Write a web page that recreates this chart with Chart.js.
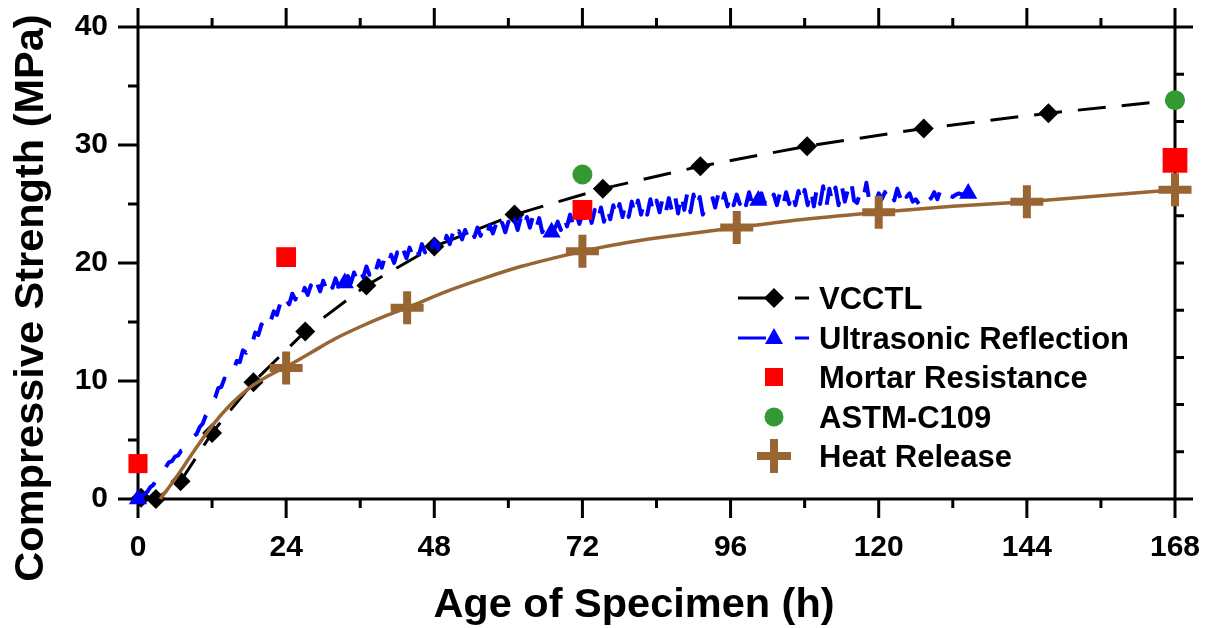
<!DOCTYPE html>
<html>
<head>
<meta charset="utf-8">
<title>Compressive strength vs age</title>
<script src="https://cdn.jsdelivr.net/npm/chart.js@4.4.1/dist/chart.umd.min.js"></script>
<style>
    html, body { margin: 0; padding: 0; background: #fff; }
    #wrap { width: 1209px; height: 628px; }
</style>
</head>
<body>
<div id="wrap"><canvas id="strengthChart" width="1209" height="628"></canvas></div>
<script>
// ---- data ----
const vcctlHours  = [0.5, 2.9, 6.9, 12.0, 18.7, 27.1, 37.0, 48.0, 61.0, 75.3, 91.1, 108.4, 127.3, 147.5, 168];
const vcctlValues = [0.1, 0.0, 1.5, 5.6, 9.9, 14.2, 18.1, 21.4, 24.1, 26.3, 28.2, 29.9, 31.4, 32.7, 33.8];

// ultrasonic record, sampled every 0.5 h from 0 h to 135 h
const ultraStart = 0;
const ultraStep = 0.5;
const ultraValues = [
    0.0, 0.2, 0.4, 0.6, 1.0, 1.2, 1.7, 1.9, 2.6, 2.7, 3.1, 3.2, 3.6, 3.7, 4.1, 4.2, 4.6, 4.8, 5.3, 5.5,
    6.1, 6.4, 7.1, 7.5, 8.3, 8.6, 9.4, 9.5, 10.2, 10.1, 10.9, 10.9, 11.7, 11.6, 12.6, 12.4, 13.4, 13.2, 14.1, 13.9,
    14.8, 14.5, 15.4, 15.1, 15.9, 15.6, 16.5, 16.0, 16.9, 16.5, 17.4, 16.9, 17.7, 17.1, 17.9, 17.3, 18.1, 17.4, 18.3, 17.6,
    18.5, 17.8, 18.6, 17.9, 18.7, 18.0, 18.8, 18.3, 18.9, 18.3, 19.2, 18.5, 19.4, 18.8, 19.7, 19.0, 19.9, 19.3, 20.2, 19.6,
    20.5, 19.8, 20.7, 20.0, 20.9, 20.2, 21.1, 20.4, 21.3, 20.6, 21.4, 20.7, 21.6, 20.9, 21.8, 21.1, 21.9, 21.2, 22.1, 21.4,
    22.3, 21.6, 22.5, 21.8, 22.7, 22.0, 22.8, 22.1, 22.9, 22.2, 23.0, 22.3, 23.1, 22.4, 23.2, 22.5, 23.3, 22.5, 23.4, 22.6,
    23.5, 22.7, 23.7, 22.8, 23.8, 22.9, 23.9, 23.0, 24.0, 22.9, 23.8, 22.6, 23.3, 22.4, 22.6, 22.9, 23.5, 22.8, 24.0, 23.1,
    24.1, 23.2, 24.2, 23.3, 24.2, 23.3, 24.4, 23.4, 24.5, 23.5, 24.7, 23.5, 24.8, 23.7, 24.9, 23.8, 25.0, 23.9, 25.1, 23.9,
    25.2, 24.0, 25.3, 24.1, 25.2, 24.1, 25.4, 24.2, 25.3, 24.3, 25.5, 24.3, 25.5, 24.4, 25.7, 24.2, 25.9, 24.5, 26.0, 24.3,
    25.8, 24.6, 25.6, 24.1, 24.8, 24.9, 25.7, 24.7, 25.8, 24.8, 25.9, 24.8, 25.9, 24.9, 25.8, 25.0, 25.9, 24.9, 26.0, 25.0,
    26.0, 25.3, 25.9, 25.1, 25.8, 25.2, 25.8, 24.9, 25.9, 24.8, 26.0, 25.0, 26.1, 24.9, 26.1, 25.0, 26.2, 24.9, 26.3, 24.8,
    26.4, 25.0, 26.5, 24.7, 26.3, 25.1, 26.4, 24.9, 26.6, 25.2, 26.2, 27.1, 25.3, 25.1, 26.0, 25.4, 26.8, 25.2, 25.5, 25.0,
    25.9, 25.4, 26.0, 25.5, 26.1, 25.3, 26.3, 25.5, 26.4, 25.6, 25.9, 25.2, 25.4, 25.0, 25.6, 25.1, 25.3, 25.5, 26.0, 25.4,
    26.2, 26.0, 26.3, 25.7, 25.6, 25.8, 25.9, 25.8, 25.9, 25.9, 26.0
];
const ultraMarkerHours = [0, 33.5, 67, 100.5, 134.5];

const mortarHours  = [0, 24, 72, 168];
const mortarValues = [3.0, 20.5, 24.5, 28.7];

const astmHours  = [72, 168];
const astmValues = [27.5, 33.8];

const heatHours  = [24, 43.6, 72, 97, 120, 144, 168];
const heatValues = [11.1, 16.2, 21.0, 23.0, 24.3, 25.2, 26.2];
// fitted heat-release curve
const heatCurveHours  = [3.6, 6, 9, 12, 15, 18, 21, 24, 28, 32, 36, 40, 44, 50, 56, 62, 68, 72, 80, 88, 97, 108, 120, 132, 144, 156, 168];
const heatCurveValues = [0, 1.7, 4.0, 6.2, 8.0, 9.4, 10.4, 11.2, 12.4, 13.6, 14.6, 15.5, 16.3, 17.6, 18.7, 19.7, 20.5, 21.0, 21.8, 22.4, 23.0, 23.7, 24.3, 24.8, 25.2, 25.7, 26.2];

const xTicks = [0, 24, 48, 72, 96, 120, 144, 168];
const yTicks = [0, 10, 20, 30, 40];

const BROWN = '#996633';
const GREEN = '#339933';
const FONT = '"Liberation Sans", Arial, sans-serif';

function pairs(xs, ys) {
    return xs.map((x, i) => ({ x: x, y: ys[i] }));
}
const ultraPoints = ultraValues.map((v, i) => ({ x: ultraStart + i * ultraStep, y: v }));

// fixed axis boxes, no extra padding for overhanging labels
function fixBox(size, horizontal) {
    return s => {
        if (horizontal) s.height = size; else s.width = size;
        s.paddingTop = 0; s.paddingBottom = 0;
        s.paddingLeft = 0; s.paddingRight = 0;
    };
}

// ---- frame, ticks, titles, legend ----
const framePlugin = {
    id: 'frame',
    beforeDatasetsDraw(chart) {
        const { ctx, chartArea: a, scales: { x, y } } = chart;
        ctx.save();
        ctx.strokeStyle = '#000';
        ctx.lineWidth = 3;
        ctx.beginPath();
        ctx.rect(a.left, a.top, a.right - a.left, a.bottom - a.top);
        for (let h = 0; h <= 168; h += 12) {
            const px = x.getPixelForValue(h);
            const len = h % 24 === 0 ? 19 : 9;
            ctx.moveTo(px, a.bottom); ctx.lineTo(px, a.bottom + len);
            ctx.moveTo(px, a.top); ctx.lineTo(px, a.top - len);
        }
        for (let v = 0; v <= 40; v += 5) {
            const py = y.getPixelForValue(v);
            const len = v % 10 === 0 ? 20 : 10;
            ctx.moveTo(a.left, py); ctx.lineTo(a.left - len, py);
        }
        for (let v = 0; v <= 40; v += 4) {
            const py = y.getPixelForValue(v);
            const len = (v === 0 || v === 40) ? 18 : 9;
            ctx.moveTo(a.right, py); ctx.lineTo(a.right + len, py);
        }
        ctx.stroke();
        ctx.restore();
    },
    afterDraw(chart) {
        const { ctx } = chart;
        ctx.save();
        ctx.fillStyle = '#000';
        ctx.font = 'bold 41.5px ' + FONT;
        ctx.textAlign = 'center';
        ctx.textBaseline = 'alphabetic';
        ctx.fillText('Age of Specimen (h)', 634, 617);
        ctx.translate(43, 298);
        ctx.rotate(-Math.PI / 2);
        ctx.fillText('Compressive Strength (MPa)', 0, 0);
        ctx.restore();

        drawLegend(ctx);
    }
};

function drawLegend(ctx) {
    const rows = [
        { label: 'VCCTL', y: 298, kind: 'diamond' },
        { label: 'Ultrasonic Reflection', y: 338, kind: 'triangle' },
        { label: 'Mortar Resistance', y: 377, kind: 'square' },
        { label: 'ASTM-C109', y: 417, kind: 'circle' },
        { label: 'Heat Release', y: 456, kind: 'cross' }
    ];
    const mx = 774;
    ctx.save();
    rows.forEach(r => {
        const cy = r.y;
        if (r.kind === 'diamond' || r.kind === 'triangle') {
            ctx.strokeStyle = r.kind === 'diamond' ? '#000' : '#0000ff';
            ctx.fillStyle = ctx.strokeStyle;
            ctx.lineWidth = 3;
            ctx.beginPath();
            ctx.moveTo(738, cy); ctx.lineTo(766, cy);
            ctx.moveTo(795, cy); ctx.lineTo(809, cy);
            ctx.stroke();
            ctx.beginPath();
            if (r.kind === 'diamond') {
                ctx.moveTo(mx, cy - 10); ctx.lineTo(mx + 10, cy);
                ctx.lineTo(mx, cy + 10); ctx.lineTo(mx - 10, cy);
            } else {
                ctx.moveTo(mx, cy - 10); ctx.lineTo(mx + 9, cy + 6);
                ctx.lineTo(mx - 9, cy + 6);
            }
            ctx.closePath();
            ctx.fill();
        } else if (r.kind === 'square') {
            ctx.fillStyle = '#ff0000';
            ctx.fillRect(mx - 9, cy - 9, 18, 18);
        } else if (r.kind === 'circle') {
            ctx.fillStyle = GREEN;
            ctx.beginPath();
            ctx.arc(mx, cy, 9.5, 0, Math.PI * 2);
            ctx.fill();
        } else {
            ctx.strokeStyle = BROWN;
            ctx.lineWidth = 8;
            ctx.beginPath();
            ctx.moveTo(mx - 17, cy); ctx.lineTo(mx + 17, cy);
            ctx.moveTo(mx, cy - 17); ctx.lineTo(mx, cy + 17);
            ctx.stroke();
        }
        ctx.fillStyle = '#000';
        ctx.font = 'bold 31px ' + FONT;
        ctx.textAlign = 'left';
        ctx.textBaseline = 'alphabetic';
        ctx.fillText(r.label, 819, cy + 11);
    });
    ctx.restore();
}

const ctx = document.getElementById('strengthChart').getContext('2d');
const strengthChart = new Chart(ctx, {
    type: 'scatter',
    data: {
        datasets: [
            {
                label: 'VCCTL',
                data: pairs(vcctlHours, vcctlValues),
                showLine: true,
                borderColor: '#000',
                borderWidth: 3,
                borderDash: [28, 16],
                pointStyle: 'rectRot',
                pointRadius: 10,
                pointBackgroundColor: '#000',
                pointBorderWidth: 0,
                clip: false,
                order: 6
            },
            {
                label: 'Ultrasonic Reflection',
                data: ultraPoints,
                showLine: true,
                borderColor: '#0000ff',
                borderWidth: 4,
                borderDash: [24, 20],
                borderJoinStyle: 'round',
                pointStyle: 'triangle',
                pointRadius: c => ultraMarkerHours.includes(c.raw ? c.raw.x : -1) ? 10.5 : 0,
                pointBackgroundColor: '#0000ff',
                pointBorderWidth: 0,
                clip: false,
                order: 5
            },
            {
                label: 'Heat Release fit',
                data: pairs(heatCurveHours, heatCurveValues),
                showLine: true,
                borderColor: BROWN,
                borderWidth: 3.5,
                cubicInterpolationMode: 'monotone',
                pointRadius: 0,
                clip: false,
                order: 4
            },
            {
                label: 'Heat Release',
                data: pairs(heatHours, heatValues),
                pointStyle: 'cross',
                pointRadius: 16.5,
                pointBorderColor: BROWN,
                pointBorderWidth: 8,
                clip: false,
                order: 3
            },
            {
                label: 'ASTM-C109',
                data: pairs(astmHours, astmValues),
                pointStyle: 'circle',
                pointRadius: 10,
                pointBackgroundColor: GREEN,
                pointBorderWidth: 0,
                clip: false,
                order: 2
            },
            {
                label: 'Mortar Resistance',
                data: pairs(mortarHours, mortarValues),
                pointStyle: 'rect',
                pointRadius: [13.5, 14, 14, 17.5],
                pointBackgroundColor: '#ff0000',
                pointBorderWidth: 0,
                clip: false,
                order: 1
            }
        ]
    },
    options: {
        responsive: false,
        animation: false,
        devicePixelRatio: 1,
        events: [],
        layout: { padding: { top: 27, right: 34, left: 0, bottom: 0 } },
        plugins: { legend: { display: false }, tooltip: { enabled: false } },
        scales: {
            x: {
                type: 'linear',
                min: 0,
                max: 168,
                afterBuildTicks: s => { s.ticks = xTicks.map(v => ({ value: v })); },
                afterFit: fixBox(129, true),
                grid: { display: false, drawTicks: false },
                border: { display: false },
                ticks: { color: '#000', padding: 31, font: { family: FONT, size: 30, weight: 'bold' } }
            },
            y: {
                type: 'linear',
                min: 0,
                max: 40,
                afterBuildTicks: s => { s.ticks = yTicks.map(v => ({ value: v })); },
                afterFit: fixBox(138, false),
                grid: { display: false, drawTicks: false },
                border: { display: false },
                ticks: { color: '#000', padding: 30, font: { family: FONT, size: 30, weight: 'bold' } }
            }
        }
    },
    plugins: [framePlugin]
});
</script>
</body>
</html>
